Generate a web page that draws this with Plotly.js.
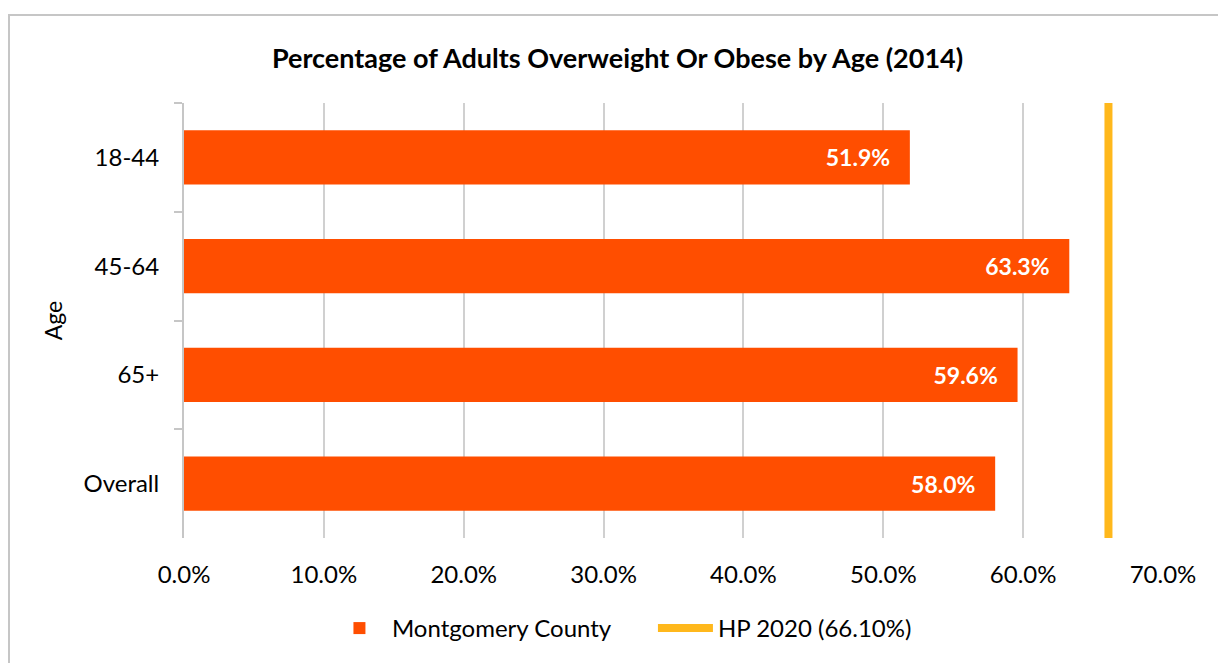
<!DOCTYPE html>
<html>
<head>
<meta charset="utf-8">
<script src="https://cdn.plot.ly/plotly-3.0.1.min.js"></script>
<style>
  html, body { margin: 0; padding: 0; background: #fff; }
  #wrap { position: relative; width: 1218px; height: 663px; overflow: hidden; }
  #frame { position: absolute; left: 8px; top: 14px; width: 1300px; height: 800px;
           border-left: 2px solid #c6c6c6; border-top: 2px solid #c6c6c6; }
  #chart { position: absolute; left: 0; top: 0; width: 1218px; height: 663px; }
</style>
</head>
<body>
<div id="wrap">
  <div id="frame"></div>
  <div id="chart"></div>
</div>
<script>
const categories = ["18-44", "45-64", "65+", "Overall"];
const countyValues = [51.9, 63.3, 59.6, 58.0];
const hpTarget = 66.1;
const seriesName = "Montgomery County";
const hpName = "HP 2020 (66.10%)";
const xTickValues = [0, 10, 20, 30, 40, 50, 60, 70];
const xTickLabels = ["0.0%", "10.0%", "20.0%", "30.0%", "40.0%", "50.0%", "60.0%", "70.0%"];

const FONT = "Lato, 'Open Sans', sans-serif";

const bars = {
  type: "bar",
  orientation: "h",
  name: seriesName,
  y: categories,
  x: countyValues,
  width: 0.5,
  marker: { color: "#FF4E00" },
  text: countyValues.map(v => v.toFixed(1) + "%\u00a0\u00a0\u00a0"),
  textposition: "inside",
  insidetextanchor: "end",
  textangle: 0,
  insidetextfont: { color: "#ffffff", size: 23, family: FONT, weight: "bold" },
  hoverinfo: "skip",
  cliponaxis: false
};

const hpLine = {
  type: "scatter",
  mode: "lines",
  name: hpName,
  x: [hpTarget, hpTarget],
  y: [0, 1],
  yaxis: "y2",
  line: { color: "#FFB81C", width: 8 },
  hoverinfo: "skip"
};

const layout = {
  width: 1218,
  height: 663,
  margin: { l: 184, r: 55, t: 103, b: 123 },
  paper_bgcolor: "rgba(0,0,0,0)",
  plot_bgcolor: "rgba(0,0,0,0)",
  font: { family: FONT, size: 24, color: "#000" },
  title: {
    text: "<b>Percentage of Adults Overweight Or Obese by Age (2014)</b>",
    font: { family: FONT, size: 27, color: "#000" },
    x: 0.507, xanchor: "center",
    y: 0.912, yanchor: "middle"
  },
  xaxis: {
    range: [0, 70],
    tickvals: xTickValues,
    ticktext: xTickLabels,
    showgrid: true,
    gridcolor: "#d0d0d0",
    gridwidth: 2,
    zeroline: false,
    showline: false,
    ticks: "",
    ticklabelstandoff: 20,
    tickfont: { size: 24, family: FONT, color: "#000" },
    fixedrange: true
  },
  yaxis: {
    type: "category",
    categoryorder: "array",
    categoryarray: categories,
    autorange: "reversed",
    showline: true,
    linecolor: "#c6c6c6",
    linewidth: 2,
    ticks: "outside",
    tickson: "boundaries",
    ticklen: 8,
    tickcolor: "#c6c6c6",
    tickwidth: 2,
    ticklabelstandoff: 18,
    showgrid: false,
    tickfont: { size: 24, family: FONT, color: "#000" },
    title: { text: "Age", font: { size: 23, family: FONT, color: "#000" }, standoff: 14 },
    fixedrange: true
  },
  yaxis2: {
    overlaying: "y",
    range: [0, 1],
    visible: false,
    fixedrange: true
  },
  showlegend: true,
  legend: {
    orientation: "h",
    x: 0.479, xanchor: "center",
    y: -0.208, yanchor: "middle",
    font: { size: 24, family: FONT, color: "#000" },
    itemwidth: 55,
    entrywidth: 256,
    entrywidthmode: "pixels",
    traceorder: "normal"
  },
  bargap: 0.5
};

Plotly.newPlot("chart", [bars, hpLine], layout, { displayModeBar: false, staticPlot: true });
</script>
</body>
</html>
